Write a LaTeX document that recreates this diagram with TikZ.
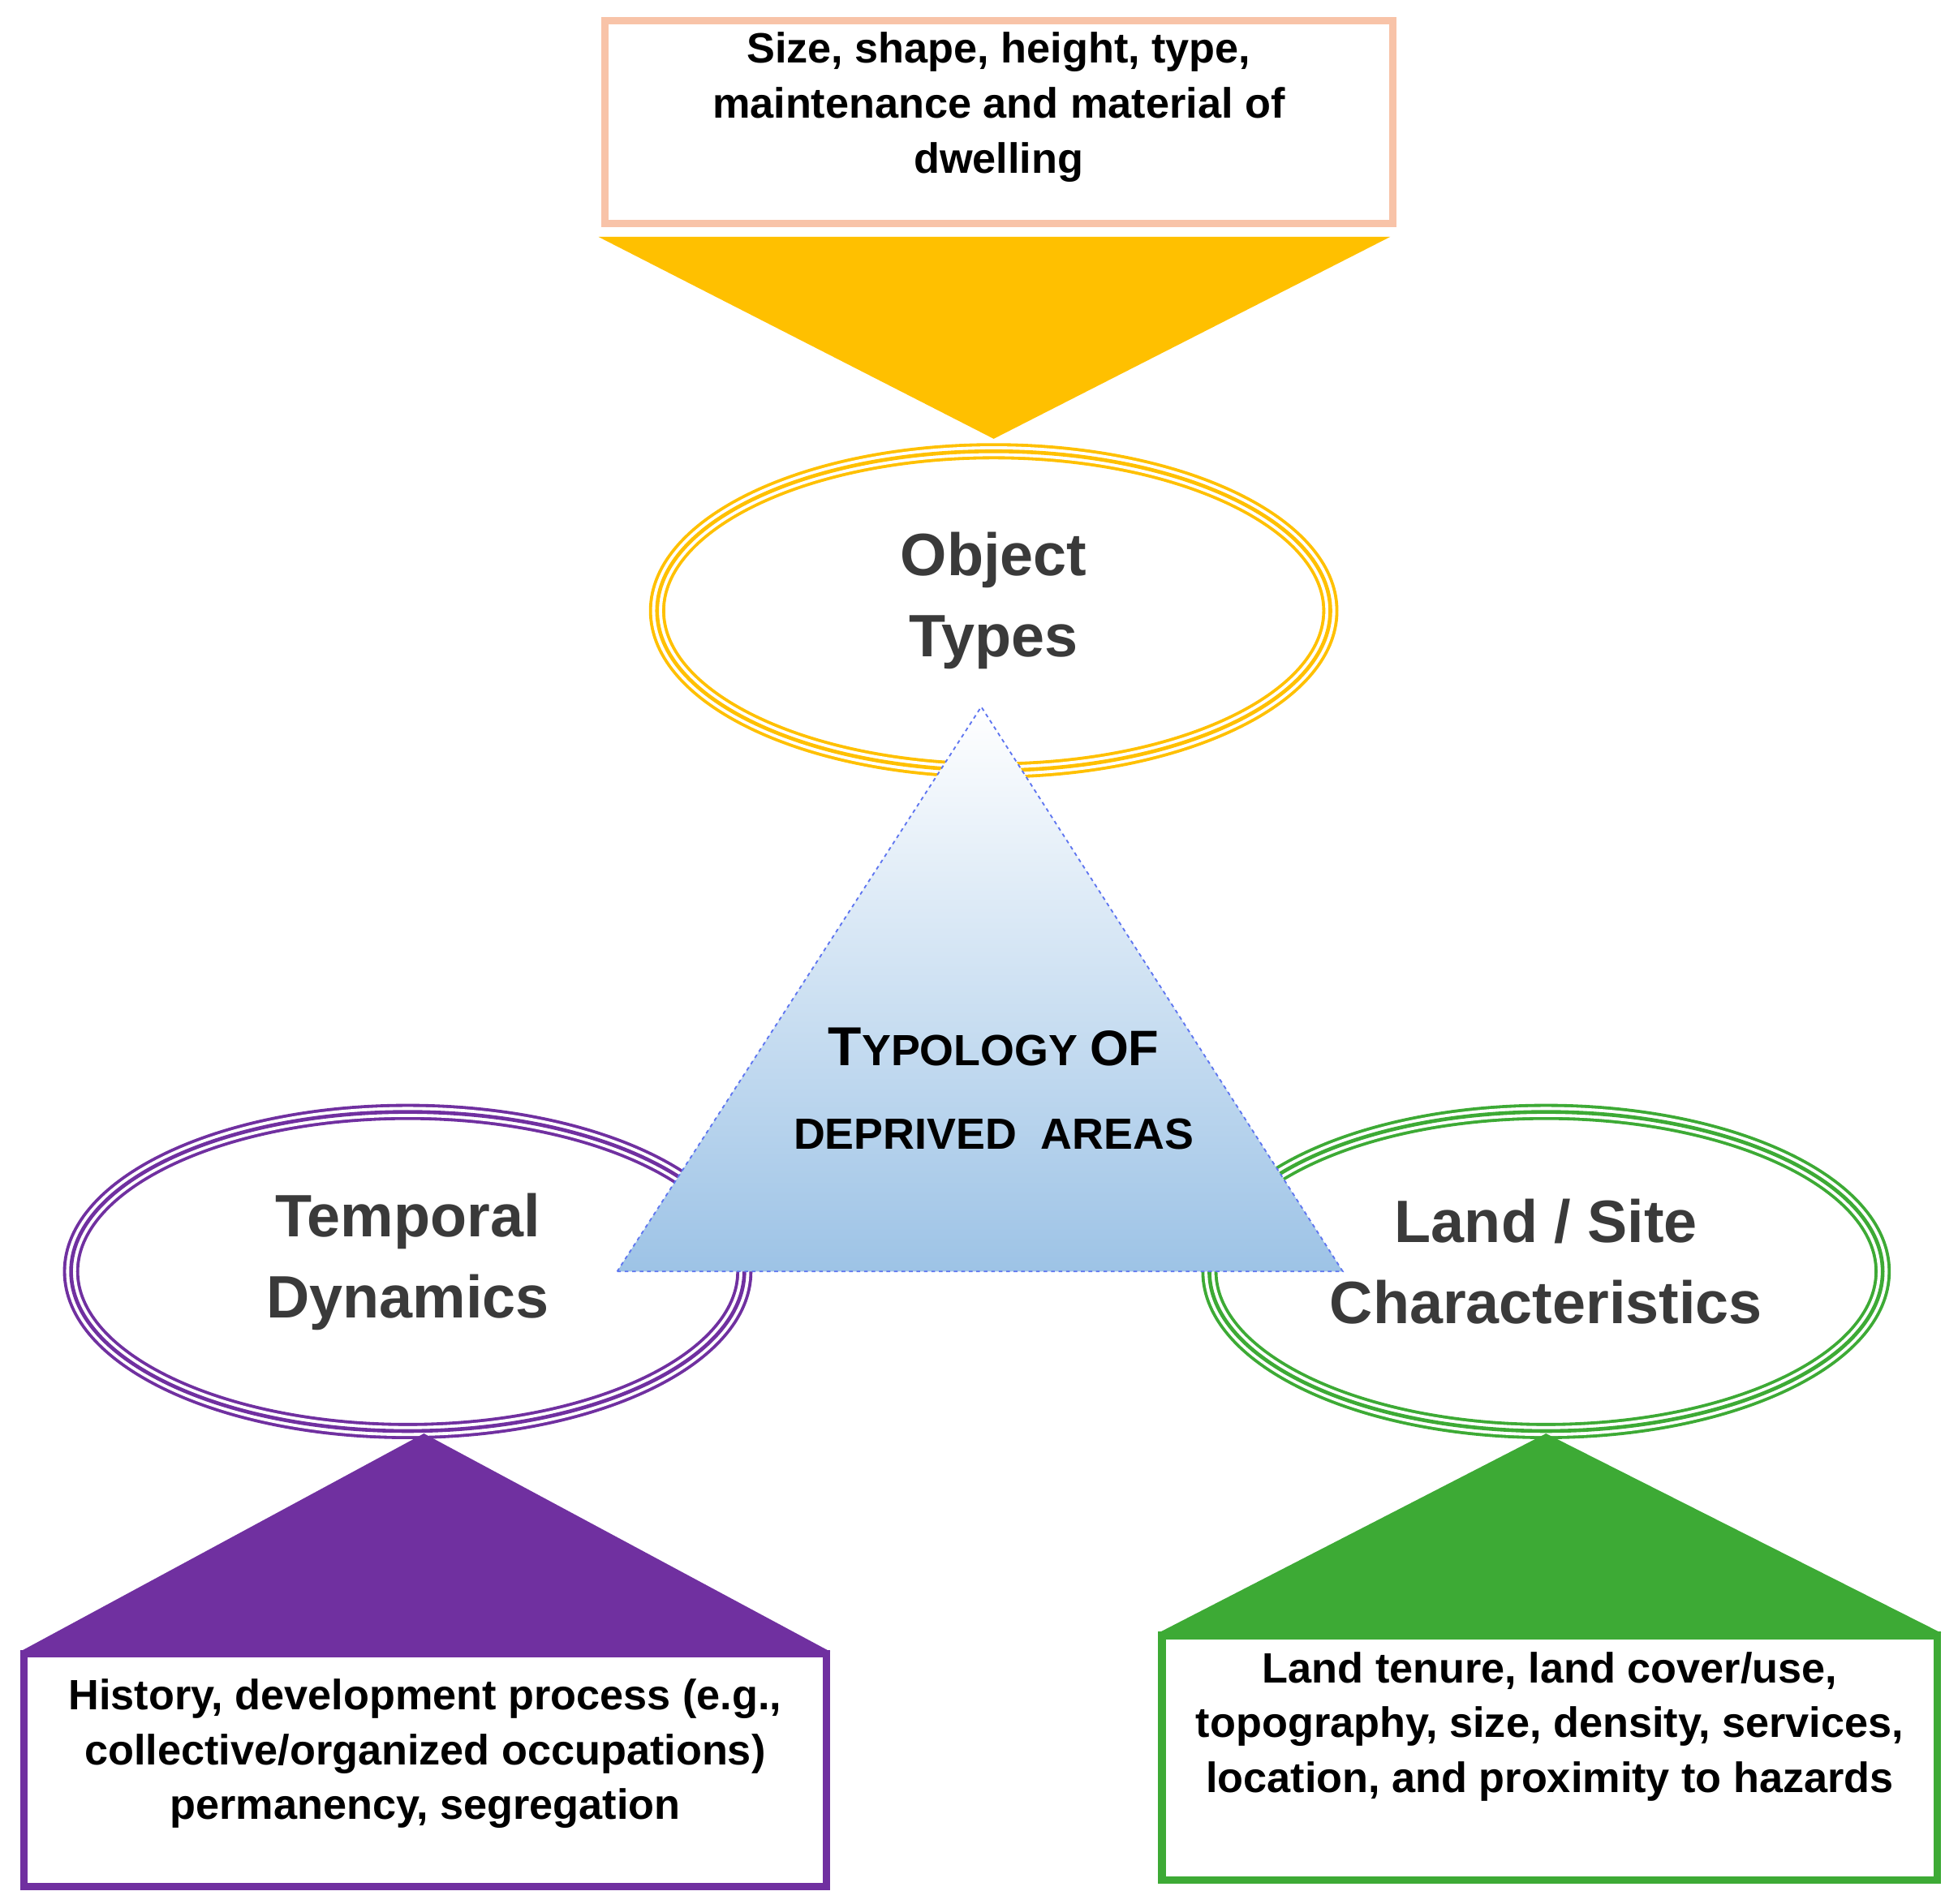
\documentclass[tikz,border=0pt]{standalone}
\usepackage{fontspec}
\setmainfont{Liberation Sans}
\usetikzlibrary{shapes.geometric}
\definecolor{salm}{HTML}{F8C3A8}
\definecolor{gold}{HTML}{FFC000}
\definecolor{purp}{HTML}{7030A0}
\definecolor{grn}{HTML}{3DAA35}
\definecolor{lblue}{HTML}{9DC3E6}
\definecolor{dgray}{HTML}{3A3A3A}
\begin{document}
\begin{tikzpicture}[x=1pt,y=-1pt,
  box/.style={draw,line width=6pt,fill=white},
  btxt/.style={font=\fontsize{34}{44}\selectfont\bfseries,align=center,text=black},
  etxt/.style={font=\fontsize{48}{65}\selectfont\bfseries,align=center,text=dgray,yshift=8},
  ell/.style={ellipse,minimum width=540,minimum height=256,inner sep=0}]
\useasboundingbox (0,0) rectangle (1560,1527);
% top
\fill[gold] (480,190) -- (1115,190) -- (797,352) -- cycle;
\node[box,draw=salm,minimum width=632,minimum height=163] (tb) at (801,98) {};
\node[btxt] (tt) at (801,86) {Size, shape, height, type,\\maintenance and material of\\dwelling};
% ellipses
\foreach \n/\c/\x/\y in {eo/gold/797/490, et/purp/327/1020, el/grn/1240/1020}{
  \node[ell,draw=\c,line width=13pt] (\n) at (\x,\y) {};
  \node[ell,draw=white,line width=8pt] at (\x,\y) {};
  \node[ell,draw=\c,line width=3pt] at (\x,\y) {};
}
\node[etxt] at (eo) {Object\\Types};
\node[etxt] at (et) {Temporal\\Dynamics};
\node[etxt] at (el) {Land / Site\\Characteristics};
% blue triangle
\shade[top color=white,bottom color=lblue] (495,1020) -- (1077,1020) -- (787,567) -- cycle;
\draw[dashed,draw=lblue!60!blue,line width=1.2pt] (495,1020) coordinate (b1) -- (1077,1020) coordinate (b2) -- (787,567) coordinate (b3) -- cycle;
\node[font=\bfseries,text=black] (typ1) at (797,840)
  {{\fontsize{44}{50}\selectfont T}{\fontsize{35}{50}\selectfont YPOLOGY }{\fontsize{40}{50}\selectfont OF}};
\node[font=\bfseries\fontsize{35}{40}\selectfont,text=black] (typ2) at (797,910) {DEPRIVED\ \ AREAS};
% bottom left
\fill[purp] (16,1325) -- (666,1325) -- (340,1150) -- cycle;
\node[box,draw=purp,minimum width=644,minimum height=187] (lb) at (341,1420) {};
\node[btxt] (lt) at (341,1407) {History, development process (e.g.,\\collective/organized occupations)\\permanency, segregation};
% bottom right
\fill[grn] (929,1310) -- (1557,1310) -- (1240,1150) -- cycle;
\node[box,draw=grn,minimum width=622,minimum height=196] (rb) at (1243,1410) {};
\node[btxt] (rt) at (1243,1385) {Land tenure, land cover/use,\\topography, size, density, services,\\location, and proximity to hazards};
\end{tikzpicture}
\end{document}
